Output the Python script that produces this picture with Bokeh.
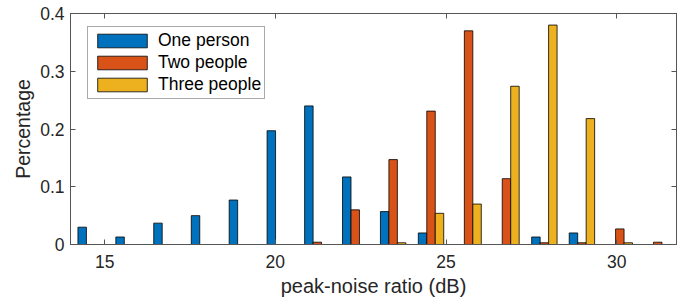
from bokeh.plotting import figure
from bokeh.models import ColumnDataSource, Range1d, FixedTicker, LinearAxis, Legend, LegendItem
from bokeh.transform import dodge
from bokeh.embed import file_html
from bokeh.resources import INLINE

# ---- data ----
bin_centers = [14.59, 15.70, 16.81, 17.91, 19.02, 20.13, 21.23, 22.34,
               23.45, 24.56, 25.66, 26.77, 27.88, 28.98, 30.09, 31.20]
one_person = [0.030, 0.013, 0.037, 0.050, 0.077, 0.197, 0.240, 0.117,
              0.057, 0.020, 0.0, 0.0, 0.013, 0.020, 0.0, 0.0]
two_people = [0.0, 0.0, 0.0, 0.0, 0.0, 0.0, 0.004, 0.060,
              0.147, 0.231, 0.370, 0.114, 0.003, 0.003, 0.027, 0.004]
three_people = [0.0, 0.0, 0.0, 0.0, 0.0, 0.0, 0.0, 0.0,
                0.003, 0.054, 0.070, 0.274, 0.380, 0.218, 0.003, 0.0]
series_names = ["One person", "Two people", "Three people"]
x_ticks = [15, 20, 25, 30]
x_tick_labels = ["15", "20", "25", "30"]
y_ticks = [0, 0.1, 0.2, 0.3, 0.4]
y_tick_labels = ["0", "0.1", "0.2", "0.3", "0.4"]

colors = ["#0072BD", "#D95319", "#EDB120"]
FONT = "Liberation Sans"
TXT = "#262626"
AX = "#555555"

src = ColumnDataSource(dict(x=bin_centers, one=one_person, two=two_people, three=three_people))

p = figure(width=677, height=300, output_backend="svg", toolbar_location=None,
           x_range=Range1d(14.0, 31.75), y_range=Range1d(0, 0.4),
           min_border_left=70, min_border_right=1, min_border_top=13, min_border_bottom=56)
p.xgrid.visible = False
p.ygrid.visible = False
p.outline_line_color = AX
p.background_fill_color = "white"
p.border_fill_color = "white"

bw = 0.248
r1 = p.vbar(x=dodge("x", -bw, range=p.x_range), top="one", width=bw, source=src,
            fill_color=colors[0], line_color="black", line_width=0.8)
r2 = p.vbar(x=dodge("x", 0.0, range=p.x_range), top="two", width=bw, source=src,
            fill_color=colors[1], line_color="black", line_width=0.8)
r3 = p.vbar(x=dodge("x", bw, range=p.x_range), top="three", width=bw, source=src,
            fill_color=colors[2], line_color="black", line_width=0.8)

def style_axis(ax, ticks, labels=None):
    ax.ticker = FixedTicker(ticks=ticks)
    ax.minor_tick_line_color = None
    ax.major_tick_in = 5
    ax.major_tick_out = 0
    ax.major_tick_line_color = AX
    ax.axis_line_color = AX
    ax.major_label_text_font = FONT
    ax.major_label_text_color = TXT
    ax.major_label_text_font_size = "17.5px"
    if labels is not None:
        ax.major_label_overrides = {t: l for t, l in zip(ticks, labels)}

style_axis(p.xaxis[0], x_ticks, x_tick_labels)
style_axis(p.yaxis[0], y_ticks, y_tick_labels)
p.xaxis[0].major_label_standoff = 10
p.yaxis[0].major_label_standoff = 6
p.xaxis[0].axis_label = "peak-noise ratio (dB)"
p.yaxis[0].axis_label = "Percentage"
for ax in (p.xaxis[0], p.yaxis[0]):
    ax.axis_label_text_font = FONT
    ax.axis_label_text_color = TXT
    ax.axis_label_text_font_style = "normal"
p.xaxis[0].axis_label_text_font_size = "20px"
p.yaxis[0].axis_label_text_font_size = "19.5px"
p.xaxis[0].axis_label_standoff = 4
p.yaxis[0].axis_label_standoff = 3

top_ax = LinearAxis()
right_ax = LinearAxis()
for ax, t in ((top_ax, x_ticks), (right_ax, y_ticks)):
    style_axis(ax, t)
    ax.major_label_text_font_size = "0px"
    ax.major_label_standoff = 0
    ax.major_label_text_alpha = 0
p.add_layout(top_ax, "above")
p.add_layout(right_ax, "right")

legend = Legend(items=[LegendItem(label=series_names[0], renderers=[r1]),
                       LegendItem(label=series_names[1], renderers=[r2]),
                       LegendItem(label=series_names[2], renderers=[r3])],
                location=(17, 145))
legend.glyph_width = 62
legend.glyph_height = 17
legend.label_height = 20
legend.spacing = 1
legend.padding = 3
legend.margin = 0
legend.label_standoff = 5
legend.label_text_font = FONT
legend.label_text_font_size = "17.5px"
legend.label_text_color = "black"
legend.border_line_color = AX
legend.background_fill_alpha = 1
p.add_layout(legend, "center")

open("out.html", "w").write(file_html(p, INLINE))
